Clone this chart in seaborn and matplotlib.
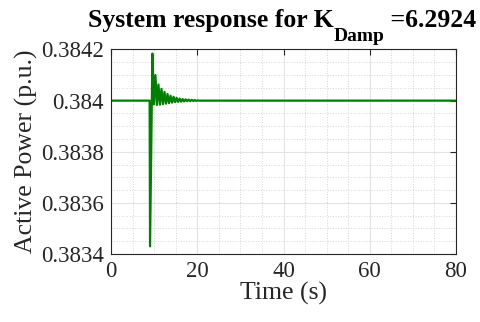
import numpy as np
import pandas as pd
import matplotlib
matplotlib.use("Agg")
import matplotlib.pyplot as plt
import seaborn as sns
from matplotlib.ticker import MultipleLocator, FuncFormatter

# Points (time in s, deviation from 0.384 in 1e-6 p.u.)
base_value = 0.384
time_s = [0, 8.95, 9.05, 9.6,
          9.95, 10.3, 10.65, 11.0, 11.35, 11.7, 12.05, 12.4, 12.75, 13.1,
          13.45, 13.8, 14.15, 14.5, 14.85, 15.2, 15.55, 15.9, 16.25, 16.6,
          16.95, 17.3, 17.65, 18.0, 18.35, 18.7, 19.05, 19.4, 19.75, 20.1,
          20.45, 22, 80]
deviation = [0, 0, -570, 184,
             -15, 100, -17, 63, -16, 46, -14, 34, -12, 26,
             -10, 19, -8, 15, -6, 11, -5, 8, -4, 6,
             -3, 5, -2, 4, -2, 3, -1, 2, -1, 1,
             0, 0, 0]

df = pd.DataFrame({"time": time_s,
                   "power": [base_value + d * 1e-6 for d in deviation]})

sns.set_style("white")
plt.rcParams["font.family"] = ["Liberation Serif", "DejaVu Serif"]

fig = plt.figure(figsize=(4.8, 3.22), dpi=100)
ax = fig.add_axes([0.2313, 0.2112, 0.7187, 0.6351])

sns.lineplot(data=df, x="time", y="power", color="#008000", linewidth=1.6, ax=ax)

ax.set_xlim(0, 80)
ax.set_ylim(0.3834, 0.3842)
ax.xaxis.set_major_locator(MultipleLocator(20))
ax.xaxis.set_minor_locator(MultipleLocator(5))
ax.yaxis.set_major_locator(MultipleLocator(0.0002))
ax.yaxis.set_minor_locator(MultipleLocator(0.00005))
ax.yaxis.set_major_formatter(FuncFormatter(lambda v, p: f"{v:g}"))

ax.grid(True, which="major", color="#e3e3e3", linewidth=0.8)
ax.grid(True, which="minor", color="#d6d6d6", linestyle=":", linewidth=0.7)
ax.set_axisbelow(True)

for s in ax.spines.values():
    s.set_color("#262626")
    s.set_linewidth(0.8)
ax.tick_params(which="both", direction="in", top=True, right=True,
               colors="#262626", labelsize=16.5, pad=5)
ax.tick_params(which="minor", length=0)
ax.tick_params(which="major", length=4)

ax.set_xlabel("Time (s)", fontsize=18.5, color="#262626", labelpad=0)
ax.set_ylabel("Active Power (p.u.)", fontsize=18.5, color="#262626", labelpad=2)

# Title with a lowered "Damp" subscript
t1 = fig.text(0.183, 0.9161, "System response for K", fontsize=18.5,
              fontweight="bold", va="baseline", ha="left", color="black")
t2 = ax.annotate("Damp", xy=(1.0, 0.8727), xycoords=(t1, "figure fraction"),
                 fontsize=14, fontweight="bold", va="baseline", ha="left",
                 color="black")
t3 = ax.annotate(" =6.2924", xy=(1.0, 0.9161), xycoords=(t2, "figure fraction"),
                 fontsize=18.5, fontweight="bold", va="baseline", ha="left",
                 color="black")

fig.savefig("out.png", dpi=100)
